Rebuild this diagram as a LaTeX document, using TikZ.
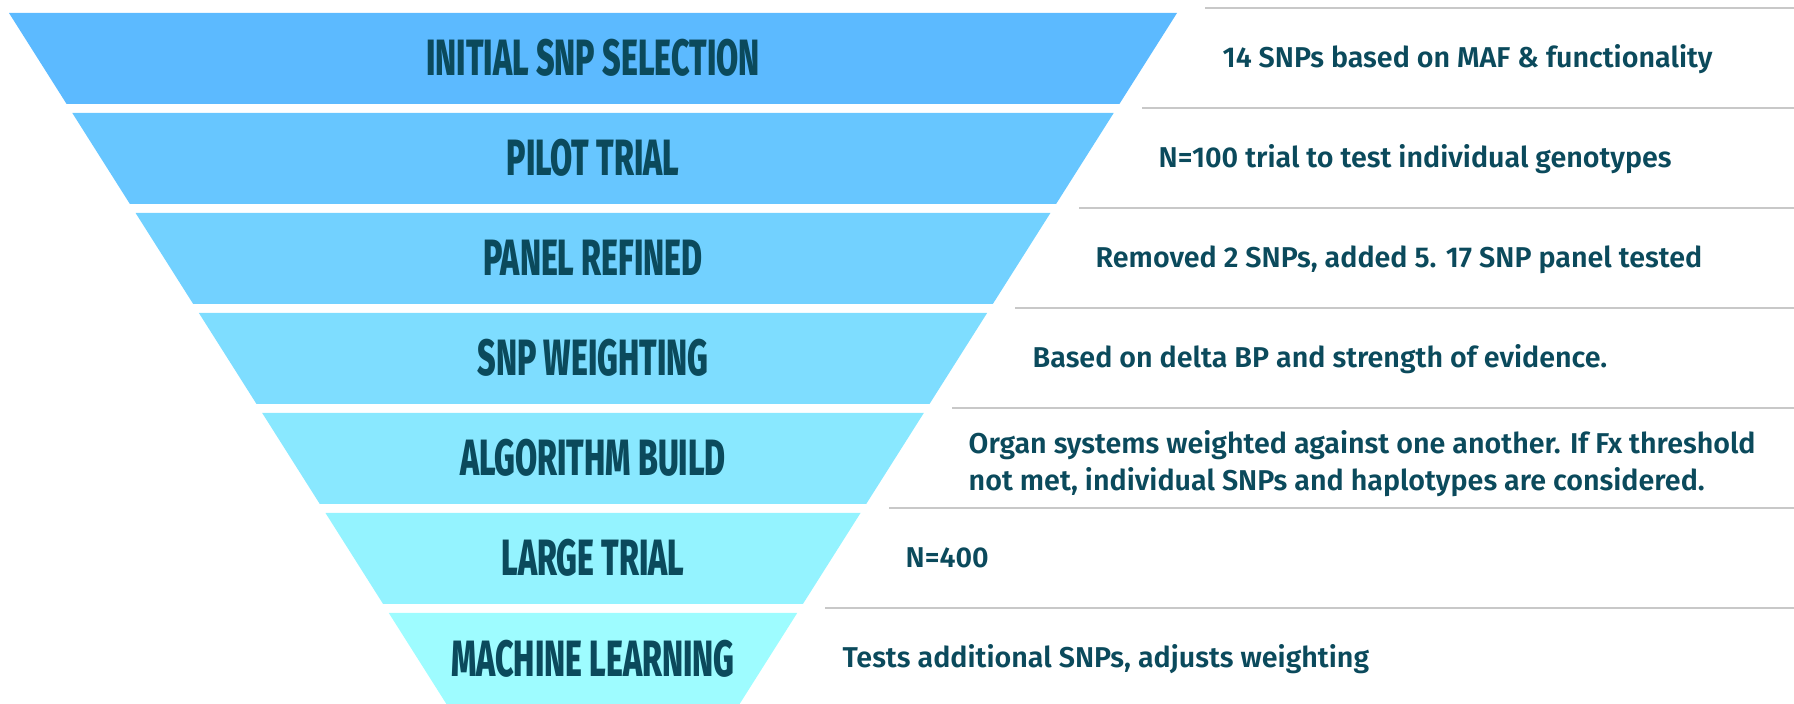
\documentclass[tikz,border=0pt]{standalone}
\usepackage{fontspec}
\setmainfont{Fira Sans}[BoldFont={Fira Sans SemiBold}]
\newfontfamily\bandfont{Fira Sans ExtraBold}[FakeStretch=0.63]
\usepackage{tikz}

\definecolor{bandA}{HTML}{5CBAFF}
\definecolor{bandB}{HTML}{67C6FF}
\definecolor{bandC}{HTML}{72D1FF}
\definecolor{bandD}{HTML}{7EDDFF}
\definecolor{bandE}{HTML}{89E8FF}
\definecolor{bandF}{HTML}{94F3FF}
\definecolor{bandG}{HTML}{9EFCFF}
\definecolor{inkteal}{HTML}{0B4A5C}
\definecolor{rulegray}{HTML}{C8C8C8}

\tikzset{
  stage/.style={font=\bandfont\fontsize{14.5}{14.5}\selectfont, text=inkteal,
    anchor=base, inner sep=0pt},
  detail/.style={font=\bfseries\fontsize{8.15}{10.6}\selectfont, text=inkteal,
    anchor=base west, inner sep=0pt, align=left},
  rule/.style={draw=rulegray, line width=0.7pt},
}

\begin{document}
\begin{tikzpicture}[x=0.01cm, y=-0.01cm]
    \useasboundingbox (0,0) rectangle (1794,704);

    % Funnel bands, widest on top
    \fill[bandA] (9,13) -- (1177,13) -- (1119.4,104) -- (66.6,104) -- cycle;
    \fill[bandB] (72.3,113) -- (1113.7,113) -- (1056.1,204) -- (129.9,204) -- cycle;
    \fill[bandC] (135.6,213) -- (1050.4,213) -- (992.8,304) -- (193.2,304) -- cycle;
    \fill[bandD] (198.9,313) -- (987.1,313) -- (929.5,404) -- (256.5,404) -- cycle;
    \fill[bandE] (262.2,413) -- (923.8,413) -- (866.2,504) -- (319.8,504) -- cycle;
    \fill[bandF] (325.5,513) -- (860.5,513) -- (802.9,604) -- (383.1,604) -- cycle;
    \fill[bandG] (388.8,613) -- (797.2,613) -- (739.6,704) -- (446.4,704) -- cycle;

    % Stage names
    \node[stage] (selection) at (593,76) {INITIAL SNP SELECTION};
    \node[stage] (pilot) at (593,176) {PILOT TRIAL};
    \node[stage] (refined) at (593,276) {PANEL REFINED};
    \node[stage] (weighting) at (593,376) {SNP WEIGHTING};
    \node[stage] (algorithm) at (593,476) {ALGORITHM BUILD};
    \node[stage] (large) at (593,576) {LARGE TRIAL};
    \node[stage] (learning) at (593,676) {MACHINE LEARNING};

    % Separator rules on the right
    \draw[rule] (1205,8) -- (1794,8);
    \draw[rule] (1142,108) -- (1794,108);
    \draw[rule] (1079,208) -- (1794,208);
    \draw[rule] (1015,308) -- (1794,308);
    \draw[rule] (952,408) -- (1794,408);
    \draw[rule] (889,508) -- (1794,508);
    \draw[rule] (825,608) -- (1794,608);

    % Notes for each stage (two-line note sits on its last baseline)
    \node[detail] (selectionnote) at (1222,68) {14 SNPs based on MAF \& functionality};
    \node[detail] (pilotnote) at (1158,168) {N=100 trial to test individual genotypes};
    \node[detail] (refinednote) at (1095,268) {Removed 2 SNPs, added 5. 17 SNP panel tested};
    \node[detail] (weightingnote) at (1032,368) {Based on delta BP and strength of evidence.};
    \node[detail] (algorithmnote) at (968,491) {Organ systems weighted against one another. If Fx threshold\\not met, individual SNPs and haplotypes are considered.};
    \node[detail] (largenote) at (905,568) {N=400};
    \node[detail] (learningnote) at (842,668) {Tests additional SNPs, adjusts weighting};
\end{tikzpicture}
\end{document}
